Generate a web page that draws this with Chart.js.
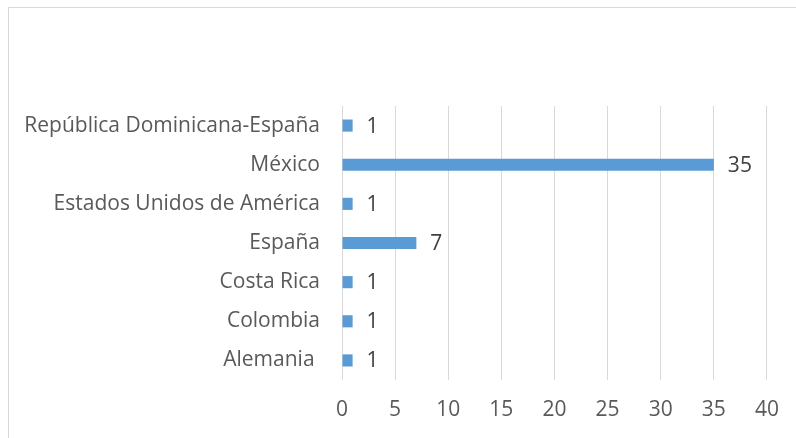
<!DOCTYPE html>
<html>
<head>
<meta charset="utf-8">
<script src="https://cdn.jsdelivr.net/npm/chart.js@4"></script>
<style>
  html, body { margin: 0; padding: 0; background: #fff; }
  #wrap { width: 796px; height: 438px; position: relative; }
</style>
</head>
<body>
<div id="wrap"><canvas id="c"></canvas></div>
<script>
const countries = ['República Dominicana-España', 'México', 'Estados Unidos de América', 'España', 'Costa Rica', 'Colombia', 'Alemania '];
const counts = [1, 35, 1, 7, 1, 1, 1];
const xTicks = [0, 5, 10, 15, 20, 25, 30, 35, 40];

const FONT = "'Open Sans', sans-serif";

// thin grey frame like the office chart area border
const frame = {
  id: 'frame',
  beforeDraw(chart) {
    const ctx = chart.ctx;
    ctx.save();
    ctx.strokeStyle = '#d9d9d9';
    ctx.lineWidth = 1;
    ctx.strokeRect(8.5, 7.5, 900, 600);
    ctx.restore();
  }
};

// value labels at the end of each bar
const valueLabels = {
  id: 'valueLabels',
  afterDatasetsDraw(chart) {
    const ctx = chart.ctx;
    const meta = chart.getDatasetMeta(0);
    ctx.save();
    ctx.font = '21px ' + FONT;
    ctx.fillStyle = '#404040';
    ctx.textAlign = 'left';
    ctx.textBaseline = 'middle';
    meta.data.forEach((bar, i) => {
      ctx.fillText(String(counts[i]), bar.x + 14, bar.y + 1);
    });
    ctx.restore();
  }
};

new Chart(document.getElementById('c'), {
  type: 'bar',
  data: {
    labels: countries,
    datasets: [{
      data: counts,
      backgroundColor: '#5b9bd5',
      borderWidth: 0,
      categoryPercentage: 1,
      barPercentage: 0.31,
    }]
  },
  options: {
    indexAxis: 'y',
    responsive: true,
    maintainAspectRatio: false,
    animation: false,
    layout: { padding: { left: 0, right: 25, top: 106, bottom: 0 } },
    plugins: {
      legend: { display: false },
      tooltip: { enabled: false },
    },
    scales: {
      x: {
        min: 0,
        max: 40,
        afterBuildTicks: s => { s.ticks = xTicks.map(v => ({ value: v })); },
        afterFit: s => { s.height = 58; },
        grid: { color: '#d9d9d9', lineWidth: 1, drawTicks: false },
        border: { display: false },
        ticks: {
          color: '#595959',
          font: { family: FONT, size: 21 },
          padding: 17,
        }
      },
      y: {
        afterFit: s => { s.width = 342; },
        grid: { display: false, drawTicks: false },
        border: { display: false },
        ticks: {
          color: '#595959',
          font: { family: FONT, size: 21 },
          padding: 22,
        }
      }
    }
  },
  plugins: [frame, valueLabels]
});
</script>
</body>
</html>
